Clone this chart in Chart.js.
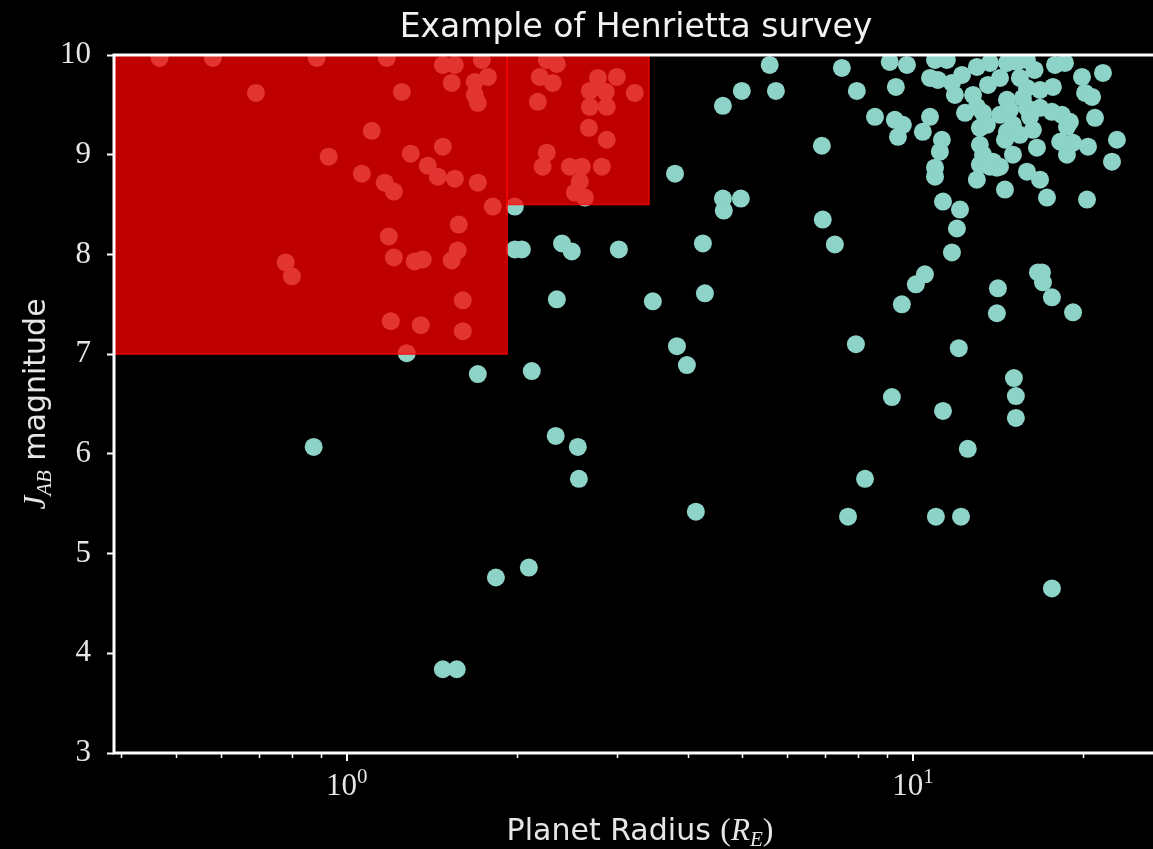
<!DOCTYPE html>
<html>
<head>
<meta charset="utf-8">
<script src="https://cdn.jsdelivr.net/npm/chart.js@4/dist/chart.umd.min.js"></script>
<style>
  html, body { margin: 0; padding: 0; background: #000; overflow: hidden; }
  #surveyChart { display: block; }
</style>
</head>
<body>
<canvas id="surveyChart" width="1153" height="849"></canvas>
<script>
// planet radius (Earth radii) and J_AB magnitude
const planetRadius = [
  0.467, 0.580, 0.885, 1.177, 0.691, 1.251, 1.107, 0.929, 1.297, 1.063,
  1.167, 1.211, 1.186, 1.211, 0.780, 0.800, 1.196, 1.276, 1.478, 1.552,
  1.732, 1.532, 1.683, 1.775, 1.683, 1.704, 1.478, 1.390, 1.448, 1.552,
  1.704, 1.811, 1.577, 1.570, 1.532, 1.318, 1.362, 1.603, 1.351, 1.603,
  2.256, 2.350, 2.192, 2.311, 2.777, 3.000, 3.226, 2.687, 2.868, 2.687,
  2.879, 2.175, 2.677, 2.879, 2.256, 2.218, 2.477, 2.600, 2.822, 2.580,
  2.529, 2.634, 1.981, 1.981, 2.038, 2.400, 2.497, 3.024, 2.350, 3.472,
  2.122, 1.704, 0.874, 2.339, 2.559, 2.570, 2.097, 1.834, 1.478, 1.564,
  4.136, 3.830, 3.988, 4.291, 4.256, 3.800, 4.617, 4.986, 5.728, 5.585,
  4.617, 4.966, 4.634, 6.905, 6.930, 7.280, 7.490, 7.960, 7.930, 7.680,
  8.230, 9.180, 9.560, 10.12, 10.50, 11.30, 10.98, 12.16, 12.50, 12.05,
  11.72, 11.96, 14.13, 14.07, 16.63, 16.90, 16.97, 17.60, 19.18, 15.08,
  15.20, 15.20, 17.60, 9.10, 9.76, 10.94, 11.48, 9.33, 10.72, 11.07,
  11.72, 12.21, 12.97, 13.68, 14.66, 15.27, 15.90, 13.57, 15.45, 15.90,
  15.64, 15.90, 14.66, 18.56, 17.67, 19.89, 21.66, 20.14, 20.72, 16.77,
  17.60, 18.33, 18.94, 18.71, 20.97, 22.93, 22.47, 20.38, 18.20, 19.18,
  18.71, 16.56, 15.02, 14.66, 15.02, 12.36, 12.97, 13.30, 13.13, 13.51,
  13.13, 13.30, 13.13, 13.85, 14.07, 12.97, 9.29, 9.60, 9.41, 10.41,
  10.72, 11.25, 11.16, 10.94, 10.94, 11.30, 12.11, 14.54, 15.90, 16.77,
  17.25, 20.30, 8.57, 14.25, 13.68, 16.10, 15.45, 16.29, 14.25, 14.25,
  11.86, 12.77, 16.77, 17.82, 16.40, 14.54, 14.84
];
const jMagnitude = [
  9.97, 9.97, 9.97, 9.97, 9.62, 9.63, 9.24, 8.98, 9.01, 8.81,
  8.72, 8.63, 8.18, 7.97, 7.92, 7.78, 7.33, 7.01, 9.90, 9.90,
  9.95, 9.72, 9.73, 9.78, 9.60, 9.52, 9.08, 8.89, 8.78, 8.76,
  8.72, 8.48, 8.30, 8.04, 7.94, 7.93, 7.95, 7.54, 7.29, 7.23,
  9.95, 9.91, 9.78, 9.72, 9.77, 9.78, 9.62, 9.64, 9.63, 9.48,
  9.48, 9.53, 9.27, 9.15, 9.02, 8.88, 8.88, 8.88, 8.88, 8.73,
  8.62, 8.57, 8.48, 8.05, 8.05, 8.11, 8.03, 8.05, 7.55, 7.53,
  6.83, 6.80, 6.07, 6.18, 6.07, 5.75, 4.86, 4.76, 3.84, 3.84,
  5.42, 7.08, 6.89, 7.61, 8.11, 8.81, 9.49, 9.64, 9.64, 9.90,
  8.56, 8.56, 8.44, 9.09, 8.35, 8.10, 9.87, 9.64, 7.10, 5.37,
  5.75, 6.57, 7.50, 7.70, 7.80, 6.43, 5.37, 5.37, 6.05, 7.06,
  8.02, 8.26, 7.66, 7.41, 7.82, 7.82, 7.72, 7.57, 7.42, 6.76,
  6.58, 6.36, 4.65, 9.93, 9.90, 9.95, 9.95, 9.68, 9.77, 9.75,
  9.72, 9.80, 9.88, 9.92, 9.92, 9.93, 9.95, 9.70, 9.77, 9.67,
  9.57, 9.47, 9.55, 9.92, 9.68, 9.78, 9.82, 9.62, 9.58, 9.47,
  9.43, 9.40, 9.33, 9.28, 9.37, 9.15, 8.93, 9.08, 9.13, 9.12,
  9.00, 9.07, 9.00, 9.23, 9.30, 9.42, 9.48, 9.42, 9.27, 9.30,
  9.10, 9.00, 8.90, 8.93, 8.87, 8.75, 9.35, 9.30, 9.18, 9.23,
  9.38, 9.15, 9.03, 8.87, 8.78, 8.53, 8.45, 8.65, 8.83, 8.75,
  8.57, 8.55, 9.38, 8.88, 8.88, 9.38, 9.20, 9.25, 9.40, 9.77,
  9.60, 9.60, 9.65, 9.90, 9.85, 9.15, 9.45
];

// survey boxes (radius range x magnitude range)
const boxRadiusMin = [0.3, 1.92];
const boxRadiusMax = [1.92, 3.42];
const boxMagMin = [7, 8.5];
const boxMagMax = [10, 10];

// axis ranges and ticks (right edge of the axes is cut off by the frame)
const radiusMin = 0.388;
const radiusMax = 26.55;
const magMin = 3;
const magMax = 10;
const xMajorTicks = [1, 10];
const xMinorTicks = [0.4, 0.5, 0.6, 0.7, 0.8, 0.9, 2, 3, 4, 5, 6, 7, 8, 9, 20];

const textColor = "#e6e6e6";
const sansFont = "'DejaVu Sans', sans-serif";
const serifFont = "'Liberation Serif', 'DejaVu Serif', serif";

function drawRuns(ctx, runs, cx, baseline) {
  // measure mixed-font text and draw it centred on cx
  let total = 0;
  runs.forEach((r) => {
    ctx.font = r.font;
    r.w = ctx.measureText(r.text).width;
    total += r.w;
  });
  let x = cx - total / 2;
  runs.forEach((r) => {
    ctx.font = r.font;
    ctx.fillText(r.text, x, baseline + (r.dy || 0));
    x += r.w;
  });
}

const surveyDecor = {
  id: "surveyDecor",
  afterDatasetsDraw(chart) {
    const { ctx, chartArea: a, scales } = chart;
    const xs = scales.x;
    const ys = scales.y;

    // red survey regions, on top of the points
    ctx.save();
    ctx.beginPath();
    ctx.rect(a.left, a.top, a.right - a.left, a.bottom - a.top);
    ctx.clip();
    ctx.fillStyle = "rgba(255, 0, 0, 0.75)";
    ctx.strokeStyle = "rgba(255, 0, 0, 0.75)";
    ctx.lineWidth = 1.5;
    for (let i = 0; i < boxRadiusMin.length; i++) {
      const x0 = xs.getPixelForValue(boxRadiusMin[i]);
      const x1 = xs.getPixelForValue(boxRadiusMax[i]);
      const y0 = ys.getPixelForValue(boxMagMax[i]);
      const y1 = ys.getPixelForValue(boxMagMin[i]);
      ctx.fillRect(x0, y0, x1 - x0, y1 - y0);
      ctx.strokeRect(x0, y0, x1 - x0, y1 - y0);
    }
    ctx.restore();
  },
  afterDraw(chart) {
    const { ctx, chartArea: a, scales } = chart;
    const xs = scales.x;

    ctx.save();
    // spines: top, left, bottom (right one lies outside the frame)
    ctx.strokeStyle = "#ffffff";
    ctx.lineWidth = 3;
    ctx.beginPath();
    ctx.moveTo(chart.width, a.top);
    ctx.lineTo(a.left, a.top);
    ctx.lineTo(a.left, a.bottom);
    ctx.lineTo(chart.width, a.bottom);
    ctx.stroke();

    // x ticks (log axis)
    ctx.lineWidth = 1.5;
    xMinorTicks.forEach((v) => {
      const px = Math.round(xs.getPixelForValue(v)) + 0.5;
      ctx.beginPath();
      ctx.moveTo(px, a.bottom);
      ctx.lineTo(px, a.bottom + 5);
      ctx.stroke();
    });
    ctx.lineWidth = 2;
    xMajorTicks.forEach((v) => {
      const px = Math.round(xs.getPixelForValue(v));
      ctx.beginPath();
      ctx.moveTo(px, a.bottom);
      ctx.lineTo(px, a.bottom + 8);
      ctx.stroke();
    });

    ctx.fillStyle = textColor;
    ctx.textAlign = "left";
    ctx.textBaseline = "alphabetic";
    xMajorTicks.forEach((v) => {
      const px = xs.getPixelForValue(v);
      drawRuns(
        ctx,
        [
          { text: "10", font: "31px " + serifFont },
          { text: String(Math.round(Math.log10(v))), font: "21px " + serifFont, dy: -12 },
        ],
        px,
        795
      );
    });

    // title, centred over the full (partly cut) axes
    ctx.fillStyle = "#f2f2f2";
    const cx = (a.left + a.right + 5) / 2;
    drawRuns(ctx, [{ text: "Example of Henrietta survey", font: "33px " + sansFont }], cx, 37);

    // x axis title
    ctx.fillStyle = textColor;
    drawRuns(
      ctx,
      [
        { text: "Planet Radius ", font: "30px " + sansFont },
        { text: "(", font: "32px " + serifFont },
        { text: "R", font: "italic 31px " + serifFont },
        { text: "E", font: "italic 21px " + serifFont, dy: 6 },
        { text: ")", font: "32px " + serifFont },
      ],
      cx + 4,
      840
    );

    // y axis title, rotated
    ctx.translate(45, (a.top + a.bottom) / 2);
    ctx.rotate(-Math.PI / 2);
    drawRuns(
      ctx,
      [
        { text: "J", font: "italic 31px " + serifFont },
        { text: "AB", font: "italic 21px " + serifFont, dy: 6 },
        { text: " magnitude", font: "30px " + sansFont },
      ],
      0,
      0
    );
    ctx.restore();
  },
};

document.addEventListener("DOMContentLoaded", function () {
  initializeSurveyChart();
});

function initializeSurveyChart() {
  const ctx = document.getElementById("surveyChart");
  if (!ctx) return;

  const points = planetRadius.map((r, i) => ({ x: r, y: jMagnitude[i] }));

  new Chart(ctx, {
    type: "scatter",
    data: {
      datasets: [
        {
          label: "Planets",
          data: points,
          backgroundColor: "#8dd3c7",
          borderWidth: 0,
          pointRadius: 9,
          pointHoverRadius: 9,
          clip: 0,
        },
      ],
    },
    options: {
      responsive: false,
      animation: false,
      events: [],
      layout: {
        autoPadding: false,
        padding: { top: 55, right: 0, bottom: 0, left: 0 },
      },
      plugins: {
        legend: { display: false },
        tooltip: { enabled: false },
      },
      scales: {
        x: {
          type: "logarithmic",
          min: radiusMin,
          max: radiusMax,
          ticks: { display: false },
          grid: { display: false },
          border: { display: false },
          afterFit: function (scale) {
            scale.height = 96;
          },
        },
        y: {
          min: magMin,
          max: magMax,
          ticks: {
            stepSize: 1,
            color: textColor,
            padding: 16,
            font: { family: serifFont, size: 31 },
          },
          grid: {
            drawOnChartArea: false,
            color: "#ffffff",
            tickLength: 7,
            tickWidth: 2,
          },
          border: { display: false },
          afterFit: function (scale) {
            scale.width = 114;
          },
        },
      },
    },
    plugins: [surveyDecor],
  });
}
</script>
</body>
</html>
